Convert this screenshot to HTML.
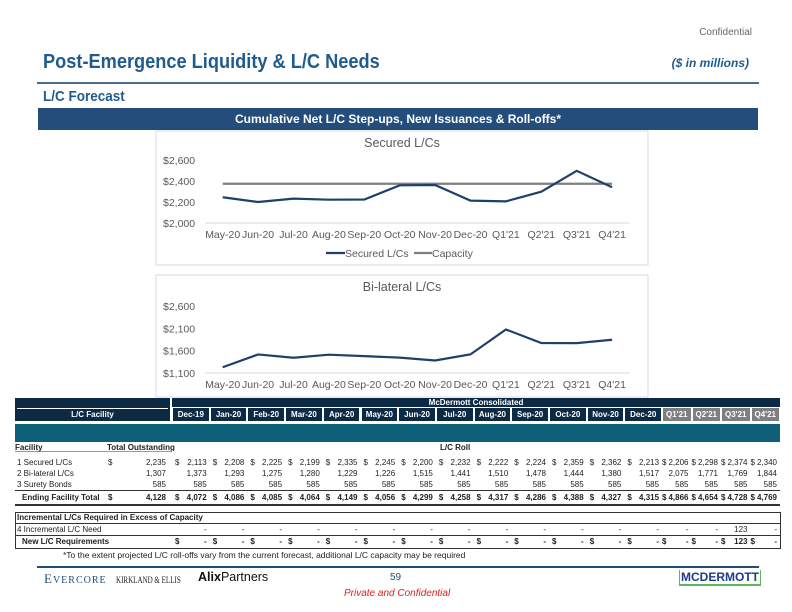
<!DOCTYPE html>
<html><head><meta charset="utf-8">
<style>
body{margin:0;background:#fff;}
#page{position:relative;width:792px;height:612px;overflow:hidden;font-family:"Liberation Sans",sans-serif;}
.a{position:absolute;white-space:nowrap;}
.t{font-size:8px;color:#222;}
</style></head>
<body><div id="page">
<div class="a" style="right:40px;top:27px;font-size:10px;color:#666;">Confidential</div>
<div class="a" style="left:43px;top:51px;font-size:20px;font-weight:bold;color:#1f5b8f;transform:scaleX(0.91);transform-origin:left top;">Post-Emergence Liquidity &amp; L/C Needs</div>
<div class="a" style="right:43px;top:56px;font-size:12px;font-weight:bold;font-style:italic;color:#1f5b8f;">($ in millions)</div>
<div class="a" style="left:37px;top:82px;width:722px;height:2px;background:#4a6b8c;"></div>
<div class="a" style="left:43px;top:88px;font-size:15px;font-weight:bold;color:#1f5b8f;transform:scaleX(0.9);transform-origin:left top;">L/C Forecast</div>
<div class="a" style="left:38px;top:108px;width:720px;height:22px;background:#244d7c;color:#fff;font-size:12px;font-weight:bold;text-align:center;line-height:22px;">Cumulative Net L/C Step-ups, New Issuances &amp; Roll-offs*</div>

<svg class="a" style="left:0;top:0" width="792" height="612" id="charts"></svg>

<div id="table"></div>

<div class="a t" style="left:63px;top:550px;font-size:8.5px;">*To the extent projected L/C roll-offs vary from the current forecast, additional L/C capacity may be required</div>
<div class="a" style="left:37px;top:566px;width:722px;height:1.5px;background:#1f4e79;"></div>
<div class="a" style="left:44px;top:571px;font-family:'Liberation Serif',serif;font-size:13px;color:#1f4e79;letter-spacing:1px;">E<span style="font-size:10px">VERCORE</span></div>
<div class="a" style="left:116px;top:575px;font-family:'Liberation Serif',serif;font-size:9px;color:#222;transform:scaleX(0.78);transform-origin:left top;">KIRKLAND &amp; ELLIS</div>
<div class="a" style="left:198px;top:570px;font-size:12.5px;color:#111;"><b>Alix</b>Partners</div>
<div class="a" style="left:390px;top:572px;font-size:10px;color:#1f4e79;">59</div>
<div class="a" style="left:679px;top:570px;font-size:12px;font-weight:bold;color:#1f3a8a;border-bottom:2px solid #5cb85c;border-left:1px solid #5cb85c;border-right:1px solid #5cb85c;padding:0 1px;line-height:14px;">MCDERMOTT</div>
<div class="a" style="left:344px;top:588px;font-size:10px;font-style:italic;color:#e02020;">Private and Confidential</div>

<script>
const cats=["May-20","Jun-20","Jul-20","Aug-20","Sep-20","Oct-20","Nov-20","Dec-20","Q1'21","Q2'21","Q3'21","Q4'21"];
const securedVals=[2245,2200,2232,2222,2224,2359,2362,2213,2206,2298,2497,2340];
const capacityVals=[2374,2374,2374,2374,2374,2374,2374,2374,2374,2374,2374,2374];
const bilateralVals=[1229,1515,1441,1510,1478,1444,1380,1517,2075,1771,1769,1844];
const securedTicks=[2000,2200,2400,2600];
const bilateralTicks=[1100,1600,2100,2600];

const NS="http://www.w3.org/2000/svg";
const svg=document.getElementById('charts');
function mk(tag,attrs,parent){const e=document.createElementNS(NS,tag);for(const k in attrs)e.setAttribute(k,attrs[k]);(parent||svg).appendChild(e);return e;}
function txt(x,y,s,attrs,name){const e=mk('text',Object.assign({x:x,y:y,'font-family':'Liberation Sans, sans-serif','font-size':10,fill:'#595959'},attrs||{}));e.textContent=s;


return e;}

function drawChart(cfg){
  const box=mk('rect',{x:cfg.bx,y:cfg.by,width:cfg.bw,height:cfg.bh,fill:'#fff',stroke:'#d9d9d9'});
  
  
  txt(cfg.bx+cfg.bw/2,cfg.by+16,cfg.title,{'text-anchor':'middle','font-size':12.5},cfg.name+'-title');
  const x0=cfg.x0,step=cfg.step;
  const xs=i=>x0+step*(i+0.5);
  const tmin=cfg.ticks[0],tmax=cfg.ticks[cfg.ticks.length-1];
  const ys=v=>cfg.yBot-(v-tmin)/(tmax-tmin)*(cfg.yBot-cfg.yTop);
  cfg.ticks.forEach((t,i)=>{
    txt(cfg.bx+7,ys(t)+4,'$'+t.toLocaleString('en-US'),{'font-size':10.5},cfg.name+'-y-tick');
  });
  const ax=mk('line',{x1:x0,x2:x0+step*cats.length,y1:cfg.yBot,y2:cfg.yBot,stroke:'#d9d9d9'});
  
  
  cats.forEach((c,i)=>{txt(xs(i),cfg.yBot+15,c,{'text-anchor':'middle','font-size':10.5},cfg.name+'-x-tick');});
  cfg.series.forEach(s=>{
    const p=mk('polyline',{points:s.vals.map((v,i)=>xs(i)+','+ys(v)).join(' '),fill:'none',stroke:s.color,'stroke-width':2.2});
    
    
  });
}
drawChart({name:'secured-chart',title:'Secured L/Cs',bx:156,by:131,bw:492,bh:134,x0:205,step:35.4,yTop:160,yBot:223,ticks:securedTicks,
  series:[{name:'capacity-line',vals:capacityVals,color:'#808080'},{name:'secured-line',vals:securedVals,color:'#203f6b'}]});
drawChart({name:'bilateral-chart',title:'Bi-lateral L/Cs',bx:156,by:275,bw:492,bh:122,x0:205,step:35.4,yTop:306,yBot:373,ticks:bilateralTicks,
  series:[{name:'bilateral-line',vals:bilateralVals,color:'#203f6b'}]});
(function(){
  let l=mk('line',{x1:326,x2:345,y1:253,y2:253,stroke:'#203f6b','stroke-width':2.2});
  
  txt(345,257,'Secured L/Cs',{'font-size':10.5},'legend-secured');
  l=mk('line',{x1:414,x2:432,y1:253,y2:253,stroke:'#808080','stroke-width':2.2});
  
  txt(432,257,'Capacity',{'font-size':10.5},'legend-capacity');
})();

const cols=["Dec-19","Jan-20","Feb-20","Mar-20","Apr-20","May-20","Jun-20","Jul-20","Aug-20","Sep-20","Oct-20","Nov-20","Dec-20","Q1'21","Q2'21","Q3'21","Q4'21"];
const securedRow=["2,113","2,208","2,225","2,199","2,335","2,245","2,200","2,232","2,222","2,224","2,359","2,362","2,213","2,206","2,298","2,374","2,340"];
const bilateralRow=["1,373","1,293","1,275","1,280","1,229","1,226","1,515","1,441","1,510","1,478","1,444","1,380","1,517","2,075","1,771","1,769","1,844"];
const suretyRow=["585","585","585","585","585","585","585","585","585","585","585","585","585","585","585","585","585"];
const totalRow=["4,072","4,086","4,085","4,064","4,149","4,056","4,299","4,258","4,317","4,286","4,388","4,327","4,315","4,866","4,654","4,728","4,769"];
const needRow=["-","-","-","-","-","-","-","-","-","-","-","-","-","-","-","123","-"];
const page=document.getElementById('page');
function div(css,html,name){const d=document.createElement('div');d.className='a';d.style.cssText=css;d.innerHTML=html;


page.appendChild(d);return d;}
function colX(i){return i<13?172+i*37.7:662+(i-13)*29.5;}
function colW(i){return i<13?37.7:29.5;}
div('left:15px;top:398px;width:155px;height:23px;background:#0d2a45;','','facility-header-bg');
div('left:172px;top:398px;width:608px;height:9px;background:#0d2a45;color:#fff;font-size:8px;font-weight:bold;text-align:center;line-height:9px;','McDermott Consolidated','consolidated-header');
div('left:17px;top:408px;width:151px;height:12px;border-top:1px solid #fff;border-bottom:1px solid #fff;color:#fff;font-size:8px;font-weight:bold;text-align:center;line-height:12px;','L/C Facility','lc-facility-header');
cols.forEach((c,i)=>{
  div('left:'+(colX(i)+1)+'px;top:408px;width:'+(colW(i)-2)+'px;height:13px;background:'+(i<13?'#0d2a45':'#7f7f7f')+';color:#fff;font-size:8px;font-weight:bold;text-align:center;line-height:13px;',c,'col-header');
});
div('left:15px;top:424px;width:765px;height:18px;background:#0e5f78;','','teal-band');
div('left:15px;top:451px;width:765px;height:1px;background:#999;','','rule-facility');
div('left:15px;top:443px;font-size:8px;font-weight:bold;color:#222;','Facility','facility-label');
div('left:107px;top:443px;font-size:8px;font-weight:bold;color:#222;','Total Outstanding','total-outstanding-label');
div('left:172px;top:451px;width:608px;height:1px;background:#fff;','','spacer');
div('left:440px;top:443px;font-size:8px;font-weight:bold;color:#222;','L/C Roll','lc-roll-label');
function row(y,label,total,vals,bold,dollar,name){
  const fw=bold?'bold':'normal';
  div('left:'+(bold?22:17)+'px;top:'+y+'px;font-size:8px;font-weight:'+fw+';color:#222;',label,name+'-label');
  if(total!==null){
    if(dollar)div('left:108px;top:'+y+'px;font-size:8px;font-weight:'+fw+';color:#222;','$',name+'-total-dollar');
    div('left:120px;width:46px;text-align:right;top:'+y+'px;font-size:8px;font-weight:'+fw+';color:#222;',total,name+'-total');
  }
  vals.forEach((v,i)=>{
    const x=colX(i),w=colW(i);
    if(dollar)div('left:'+(x+(i<13?3:0))+'px;top:'+y+'px;font-size:8px;font-weight:'+fw+';color:#222;','$',name+'-dollar');
    div('left:'+x+'px;width:'+(w-3)+'px;text-align:right;top:'+y+'px;font-size:8px;font-weight:'+fw+';color:#222;',v,name+'-value');
  });
}
row(458,'1 Secured L/Cs','2,235',securedRow,false,true,'secured-row');
row(469,'2 Bi-lateral L/Cs','1,307',bilateralRow,false,false,'bilateral-row');
row(480,'3 Surety Bonds','585',suretyRow,false,false,'surety-row');
div('left:15px;top:490px;width:765px;height:1px;background:#333;','','rule-total-top');
row(493,'Ending Facility Total','4,128',totalRow,true,true,'total-row');
div('left:15px;top:504px;width:765px;height:1.5px;background:#333;','','rule-total-bottom');
div('left:15px;top:512px;width:764px;height:35px;border:1px solid #333;','','incremental-box');
div('left:15px;top:523px;width:765px;height:1px;background:#333;','','incremental-rule');
div('left:17px;top:513px;font-size:8px;font-weight:bold;color:#222;','Incremental L/Cs Required in Excess of Capacity','incremental-title');
row(525,'4 Incremental L/C Need',null,needRow,false,false,'need-row');
div('left:15px;top:535px;width:765px;height:1px;background:#333;','','new-req-rule');
row(537,'New L/C Requirements',null,needRow,true,true,'new-req-row');
</script>
</div></body></html>
